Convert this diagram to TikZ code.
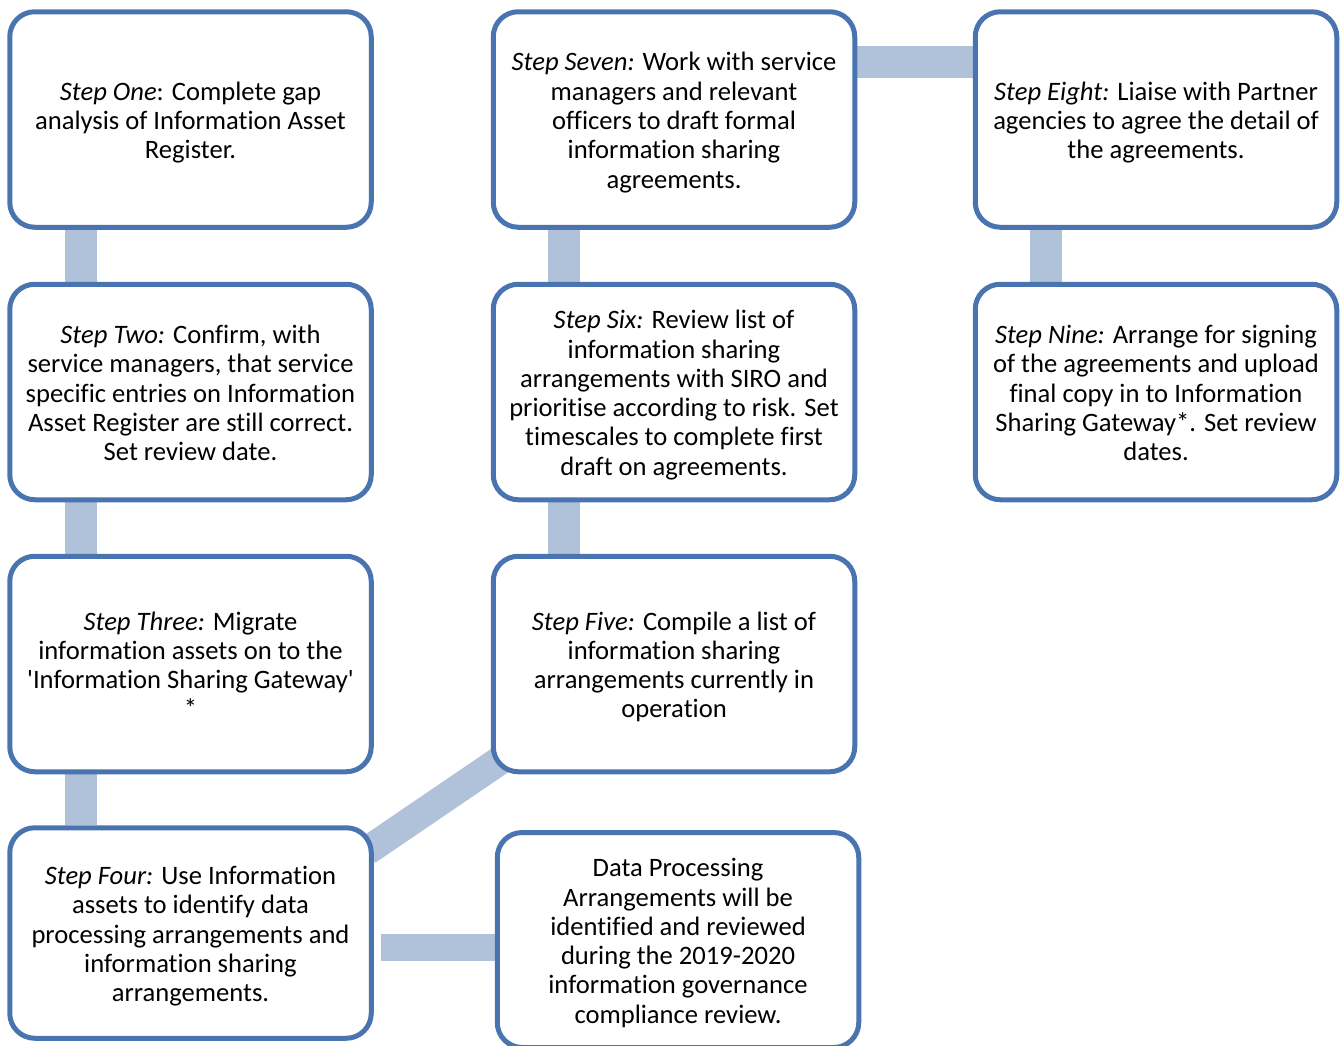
\documentclass[tikz,border=0pt]{standalone}
\usepackage{fontspec}
\newfontfamily\carl{Carlito}[Ligatures=NoCommon]
\usetikzlibrary{backgrounds}
\definecolor{bord}{HTML}{4A74AF}
\definecolor{band}{HTML}{B0C2DA}
\newcommand\tstr{\rule{0pt}{29pt}}
\newcommand\bstr{\rule[-9pt]{0pt}{9pt}}
\begin{document}
\begin{tikzpicture}[x=1pt,y=-1pt,
  box/.style={draw=bord, line width=5pt, fill=white, rounded corners=25pt,
    minimum width=361.5pt, minimum height=215.5pt, align=center, inner sep=0pt,
    font=\carl\fontsize{26.6}{29.3}\selectfont},
  conn/.style={draw=band, line width=32pt}]
\useasboundingbox (0,0) rectangle (1341,1045);
\node[box] (one) at (190.5,119.5) {\tstr\textit{Step One}: Complete gap\\analysis of Information Asset\\Register.\bstr};
\node[box] (two) at (190.5,392) {\tstr\textit{Step Two:} Confirm, with\\service managers, that service\\specific entries on Information\\Asset Register are still correct.\\Set review date.\bstr};
\node[box] (three) at (190.5,664) {\tstr\textit{Step Three:} Migrate\\information assets on to the\\'Information Sharing Gateway'\\*\bstr};
\node[box, minimum height=210.5pt] (four) at (190.5,933) {\tstr\textit{Step Four:} Use Information\\assets to identify data\\processing arrangements and\\information sharing\\arrangements.\bstr};
\node[box] (seven) at (674,119.5) {\tstr\textit{Step Seven:} Work with service\\managers and relevant\\officers to draft formal\\information sharing\\agreements.\bstr};
\node[box] (six) at (674,392) {\tstr\textit{Step Six:} Review list of\\information sharing\\arrangements with SIRO and\\prioritise according to risk. Set\\timescales to complete first\\draft on agreements.\bstr};
\node[box] (five) at (674,664) {\tstr\textit{Step Five:} Compile a list of\\information sharing\\arrangements currently in\\operation\bstr};
\node[box, minimum height=215pt] (dp) at (678,940) {\tstr Data Processing\\Arrangements will be\\identified and reviewed\\during the 2019-2020\\information governance\\compliance review.\bstr};
\node[box] (eight) at (1156,119.5) {\tstr\textit{Step Eight:} Liaise with Partner\\agencies to agree the detail of\\the agreements.\bstr};
\node[box] (nine) at (1156,392) {\tstr\textit{Step Nine:} Arrange for signing\\of the agreements and upload\\final copy in to Information\\Sharing Gateway*. Set review\\dates.\bstr};
\begin{scope}[on background layer]
  \draw[conn] ([xshift=74pt]one.south west) -- ([xshift=74pt]two.north west);
  \draw[conn] ([xshift=74pt]two.south west) -- ([xshift=74pt]three.north west);
  \draw[conn] ([xshift=74pt]three.south west) -- ([xshift=74pt]four.north west);
  \draw[conn] ([xshift=73.5pt]seven.south west) -- ([xshift=73.5pt]six.north west);
  \draw[conn] ([xshift=73.5pt]six.south west) -- ([xshift=73.5pt]five.north west);
  \draw[conn] ([xshift=73.5pt]eight.south west) -- ([xshift=73.5pt]nine.north west);
  \draw[conn] ([yshift=-53pt]seven.north east) -- ([yshift=-53pt]eight.north west);
  \coordinate (c1) at ([yshift=-117pt]dp.north west);
  \path (four.east |- c1) ++(7,0) coordinate (c2);
  \draw[conn, line width=27pt] (c2) -- (c1);
  \draw[conn, line width=29pt, shorten <=-8pt, shorten >=-8pt]
    ([yshift=-21pt]four.north east) -- ([xshift=5pt,yshift=11pt]five.south west);
\end{scope}
\end{tikzpicture}
\end{document}
